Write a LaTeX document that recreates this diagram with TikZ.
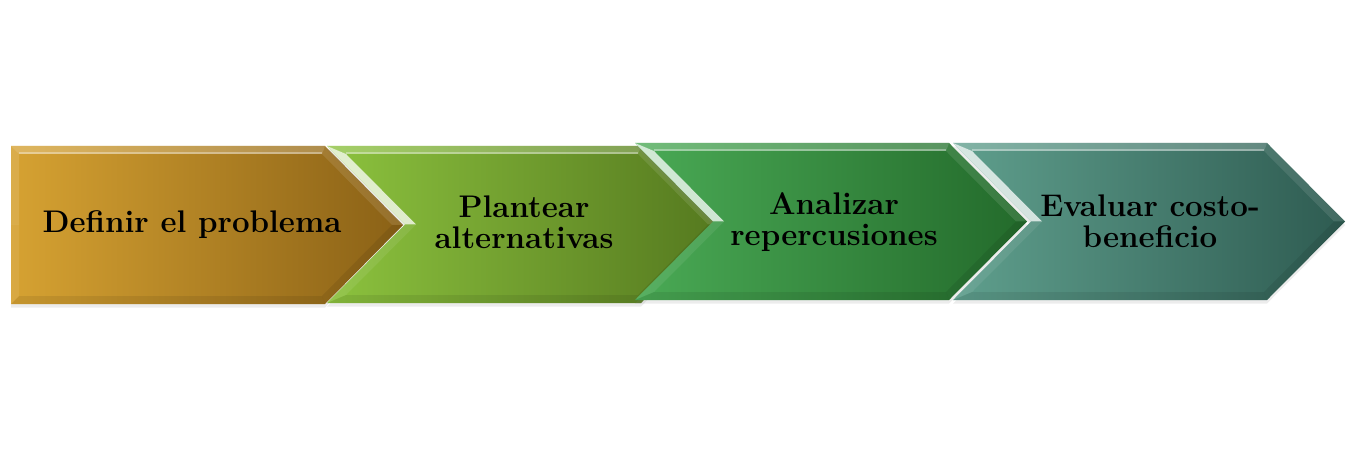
\documentclass[tikz,border=0pt]{standalone}
\usepackage{tikz}
\usetikzlibrary{calc,shadows}
\usepackage{xcolor}
\definecolor{goldA}{HTML}{D6A232}
\definecolor{goldB}{HTML}{8A6116}
\definecolor{limeA}{HTML}{8CC23E}
\definecolor{limeB}{HTML}{55791F}
\definecolor{leafA}{HTML}{4AAA55}
\definecolor{leafB}{HTML}{236A2B}
\definecolor{tealA}{HTML}{5F9F8D}
\definecolor{tealB}{HTML}{2E5B51}

\begin{document}
\begin{tikzpicture}[x=0.02cm,y=-0.02cm]
\tikzstyle{stage}=[font=\fontsize{17.8}{17.5}\selectfont\bfseries, align=center, inner sep=1pt]
\useasboundingbox (0,0) rectangle (1355,449);
% chevrons: left, top, bottom, notch depth, colours
\foreach \xl/\yt/\yb/\nd/\ca/\cb in {11/146/304/0/goldA/goldB, 327/146/303/78/limeA/limeB, 635/143/300/78/leafA/leafB, 953/143/300/78/tealA/tealB}{
  \pgfmathsetmacro{\ym}{(\yt+\yb)/2}
  \pgfmathsetmacro{\xr}{\xl+314}
  \pgfmathsetmacro{\xp}{\xr+78}
  \pgfmathsetmacro{\ia}{\nd>0 ? 19 : 8}
  \pgfmathsetmacro{\iq}{\nd>0 ? 11 : 8}
  \pgfmathsetmacro{\hl}{\nd>0 ? 0.75 : 0.12}
  \path[drop shadow={shadow xshift=0pt,shadow yshift=-2pt,opacity=0.15}, left color=\ca, right color=\cb]
    (\xl,\yt) -- (\xr,\yt) -- (\xp,\ym) -- (\xr,\yb) -- (\xl,\yb) -- (\xl+\nd,\ym) -- cycle;
  % bevel
  \fill[white, opacity=0.22] (\xl,\yt) -- (\xr,\yt) -- (\xr-3,\yt+8) -- (\xl+\ia,\yt+8) -- cycle;
  \draw[white, opacity=0.35, line width=1pt] (\xl+\ia,\yt+7) -- (\xr-3,\yt+7);
  \fill[white, opacity=0.1] (\xr,\yt) -- (\xp,\ym) -- (\xp-11,\ym) -- (\xr-3,\yt+8) -- cycle;
  \fill[black, opacity=0.08] (\xp,\ym) -- (\xr,\yb) -- (\xr-3,\yb-8) -- (\xp-11,\ym) -- cycle;
  \fill[black, opacity=0.08] (\xr,\yb) -- (\xl,\yb) -- (\xl+\ia,\yb-8) -- (\xr-3,\yb-8) -- cycle;
  \fill[white, opacity=0.08] (\xl,\yb) -- (\xl+\nd,\ym) -- (\xl+\nd+\iq,\ym) -- (\xl+\ia,\yb-8) -- cycle;
  \fill[white, opacity=\hl] (\xl+\nd,\ym) -- (\xl,\yt) -- (\xl+\ia,\yt+8) -- (\xl+\nd+\iq,\ym) -- cycle;
}
\node[stage] (define) at (192,225) {Definir el problema};
\node[stage] (plan) at (524,222) {Plantear\\alternativas};
\node[stage] (analyze) at (834,222) {Analizar\\repercusiones};
\node[stage] (assess) at (1150,221) {Evaluar costo-\\beneficio};
\end{tikzpicture}
\end{document}
